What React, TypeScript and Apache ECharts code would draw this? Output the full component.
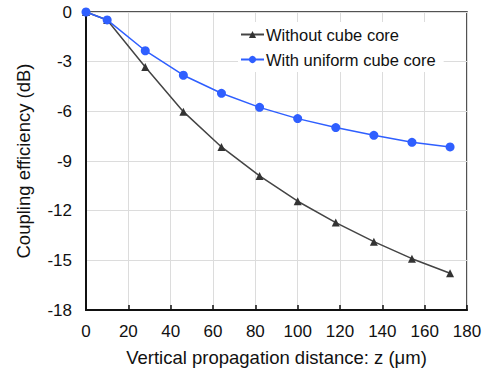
import React, { useEffect, useRef } from "react";
import * as echarts from "echarts";

const zValues = [0, 10, 28, 46, 64, 82, 100, 118, 136, 154, 172];
const withoutCore = [0, -0.48, -3.32, -6.02, -8.15, -9.9, -11.43, -12.72, -13.87, -14.9, -15.78];
const withUniformCore = [0, -0.48, -2.34, -3.82, -4.91, -5.76, -6.44, -6.98, -7.45, -7.87, -8.15];
const seriesNames = ["Without cube core", "With uniform cube core"];

const FONT = "Liberation Sans, Arial, sans-serif";

export default function App() {
  const ref = useRef<HTMLDivElement>(null);
  useEffect(() => {
    if (!ref.current) return;
    const chart = echarts.init(ref.current, undefined, { renderer: "svg" });
    chart.setOption({
      animation: false,
      backgroundColor: "#ffffff",
      textStyle: { fontFamily: FONT },
      grid: {
        left: 86,
        right: 19,
        top: 12,
        bottom: 62,
        show: true,
        borderColor: "#1a1a1a",
        borderWidth: 1.5,
        backgroundColor: "transparent",
      },
      legend: {
        left: 238,
        top: 22,
        orient: "vertical",
        itemGap: 8,
        itemWidth: 23,
        itemHeight: 9,
        backgroundColor: "#ffffff",
        padding: [4, 8, 4, 2],
        textStyle: { fontFamily: FONT, fontSize: 16.5, color: "#111", padding: [0, 0, 0, -3] },
        data: seriesNames,
      },
      xAxis: {
        type: "value",
        min: 0,
        max: 180,
        interval: 20,
        name: "Vertical propagation distance: z (μm)",
        nameLocation: "middle",
        nameGap: 38,
        nameTextStyle: { fontFamily: FONT, fontSize: 18.5, color: "#111" },
        axisLine: { show: true, onZero: false, lineStyle: { color: "#111", width: 2 } },
        axisTick: { show: true, inside: true, length: 5, lineStyle: { color: "#111", width: 1.5 } },
        axisLabel: { fontFamily: FONT, fontSize: 17, color: "#111", margin: 13 },
        splitLine: { show: true, lineStyle: { color: "#dcdcdc", width: 1 } },
      },
      yAxis: {
        type: "value",
        min: -18,
        max: 0,
        interval: 3,
        name: "Coupling efficiency (dB)",
        nameLocation: "middle",
        nameGap: 53,
        nameTextStyle: { fontFamily: FONT, fontSize: 18.5, color: "#111" },
        axisLine: { show: true, onZero: false, lineStyle: { color: "#111", width: 2 } },
        axisTick: { show: false },
        axisLabel: { fontFamily: FONT, fontSize: 17, color: "#111", margin: 14 },
        splitLine: { show: true, lineStyle: { color: "#dcdcdc", width: 1 } },
      },
      series: [
        {
          name: seriesNames[0],
          type: "line",
          data: zValues.map((z, i) => [z, withoutCore[i]]),
          symbol: "triangle",
          symbolSize: 8,
          lineStyle: { color: "#444444", width: 1.5 },
          itemStyle: { color: "#333333" },
          z: 3,
        },
        {
          name: seriesNames[1],
          type: "line",
          data: zValues.map((z, i) => [z, withUniformCore[i]]),
          symbol: "circle",
          symbolSize: 9,
          lineStyle: { color: "#2f5fff", width: 1.5 },
          itemStyle: { color: "#2f5fff" },
          z: 4,
        },
      ],
    });
    return () => chart.dispose();
  }, []);
  return (
    <div
      ref={ref}
      style={{ position: "fixed", left: 0, top: 0, width: 486, height: 372, background: "#fff" }}
    />
  );
}
